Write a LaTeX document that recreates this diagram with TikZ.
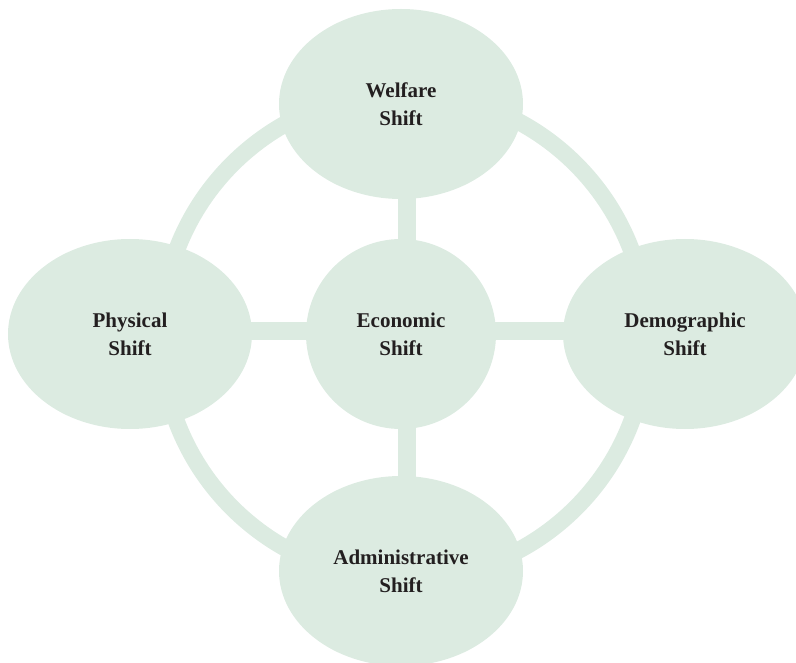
\documentclass[tikz,border=0pt]{standalone}
\usepackage{fontspec}
\setmainfont{Liberation Serif}
\usetikzlibrary{shapes.geometric,backgrounds}
\definecolor{pale}{HTML}{DCEBE1}
\definecolor{ink}{HTML}{231F20}
\tikzset{
  oval/.style={ellipse, fill=pale, minimum width=244pt, minimum height=190pt, inner sep=0pt,
    align=center, font=\fontsize{21}{28}\selectfont\bfseries, text=ink},
  hub/.style={circle, fill=pale, minimum size=190pt, inner sep=0pt,
    align=center, font=\fontsize{21}{28}\selectfont\bfseries, text=ink},
  bar/.style={draw=pale, line width=18pt},
  ring/.style={draw=pale, line width=17pt}
}
\begin{document}
\begin{tikzpicture}[x=1pt,y=-1pt]
\useasboundingbox (0,0) rectangle (796,663);
\node[hub]  (mid)   at (401,334) {Economic\\Shift};
\node[oval] (top)   at (401,104) {Welfare\\Shift};
\node[oval] (left)  at (130,334) {Physical\\Shift};
\node[oval] (right) at (685,334) {Demographic\\Shift};
\node[oval] (bot)   at (401,571) {Administrative\\Shift};
\coordinate (ringc) at (404,336);
\begin{pgfonlayer}{background}
  \draw[ring] (ringc) circle[radius=243pt];
  \draw[bar] ([xshift=6pt]top.center) -- ([xshift=6pt]bot.center);
  \draw[bar] ([yshift=3pt]left.center) -- ([yshift=3pt]right.center);
\end{pgfonlayer}
\end{tikzpicture}
\end{document}
